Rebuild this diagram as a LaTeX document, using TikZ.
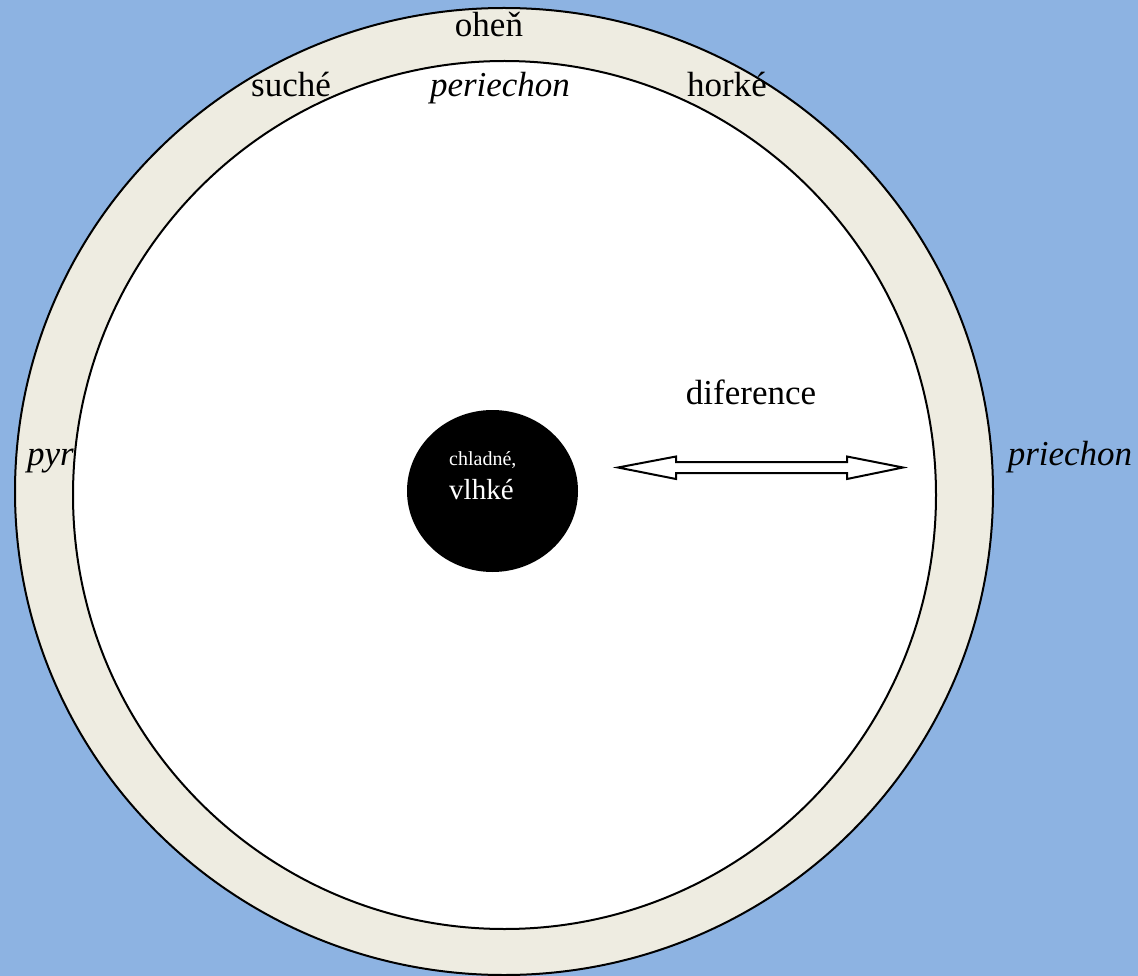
\documentclass[tikz,border=0pt]{standalone}
\usepackage{fontspec}
\setmainfont{Liberation Serif}
\definecolor{skyback}{HTML}{8DB3E2}
\definecolor{ringfill}{HTML}{EEECE1}
\tikzset{
  ringtext/.style={font=\fontsize{35}{40}\selectfont, inner sep=0pt},
  edge line/.style={draw=black, line width=2pt}
}
\begin{document}
\begin{tikzpicture}[x=1pt, y=-1pt]
    % pozadi
    \fill[skyback] (0,0) rectangle (1138,976);
    \useasboundingbox (0,0) rectangle (1138,976);

    % vnejsi prstenec
    \filldraw[edge line, fill=ringfill] (504,491.5) ellipse [x radius=489, y radius=483.5];
    \node[ringtext, anchor=base west] (pyr) at (27,465) {\textit{pyr}};

    % vnitrni kruh
    \filldraw[edge line, fill=white] (504.5,495) ellipse [x radius=431.5, y radius=434];

    % popisky
    \node[ringtext, anchor=base] (ohen) at (489,37) {oheň};
    \node[ringtext, anchor=base] (periechon) at (500,97) {\textit{periechon}};
    \node[ringtext, anchor=base] (suche) at (291,97) {suché};
    \node[ringtext, anchor=base] (horke) at (727,97) {horké};
    \node[ringtext, anchor=base] (diference) at (751,404) {diference};
    \node[ringtext, anchor=base] (priechon) at (1070,465) {\textit{priechon}};

    % stred
    \fill[black] (492.5,491) ellipse [x radius=85.5, y radius=81];
    \node[inner sep=0pt, anchor=base west, text=white, font=\fontsize{20}{24}\selectfont] (chladne) at (449,465) {chladné,};
    \node[inner sep=0pt, anchor=base west, text=white, font=\fontsize{29}{32}\selectfont] (vlhke) at (449,499) {vlhké};

    % dvojita sipka
    \filldraw[edge line, fill=white, line join=miter]
      (618,467.5) -- (676,456.5) -- (676,462) -- (847,462) -- (847,456.5) -- (903,467.5)
      -- (847,479) -- (847,473) -- (676,473) -- (676,479) -- cycle;
\end{tikzpicture}
\end{document}
